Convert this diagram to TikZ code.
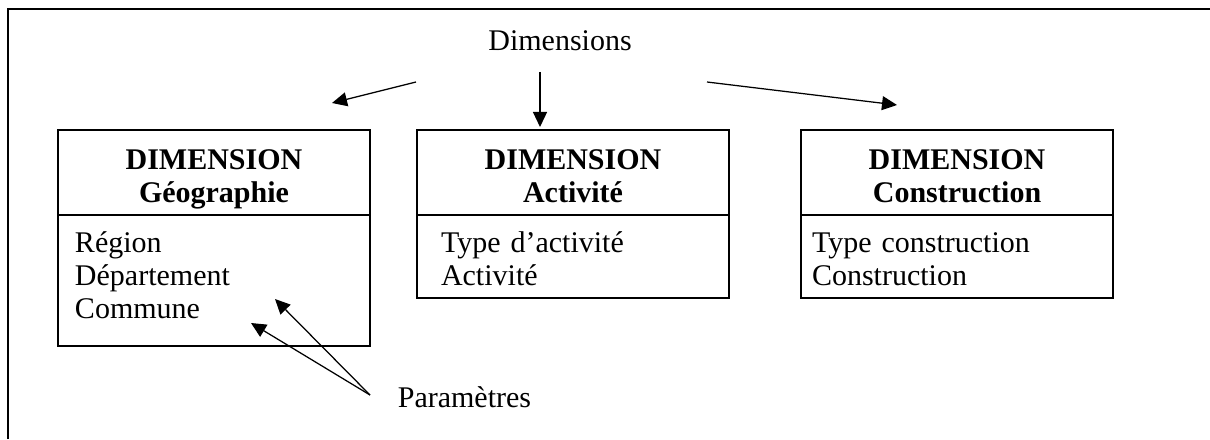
\documentclass[tikz,border=0pt]{standalone}
\usepackage{fontspec}
\setmainfont{Liberation Serif}
\usetikzlibrary{arrows.meta,positioning}

\begin{document}
\begin{tikzpicture}[>={Triangle[length=6pt,width=5.6pt]}, x=0.4pt, y=-0.4pt,
	font=\fontsize{12pt}{13.2pt}\selectfont,
	head/.style={draw, line width=0.8pt, outer sep=0pt, text width=124.8pt, inner xsep=0pt,
		align=center, font=\fontsize{12pt}{13.2pt}\selectfont\bfseries,
		inner ysep=7.6pt, text height=8pt, text depth=10.8pt},
	body/.style={draw, line width=0.8pt, outer sep=0pt, align=left, inner ysep=6.4pt, text height=8.4pt},
	link/.style={->, line width=0.5pt}]
	\useasboundingbox (0,0) rectangle (1210,439);
	
	% Frame
	\draw [line width=1.1pt] (8,439) -- (8,9) -- (1210,9);
	
	% Nodes {dims, heads, bodies, params}
	\node [anchor=base]			(dims)		at (560,51)		{Dimensions};
	\node [head]				(geoHead)	at (214,172.5)	{DIMENSION\\Géographie};
	\node [head]				(actHead)	[right=18.8pt of geoHead]	{DIMENSION\\Activité};
	\node [head]				(conHead)	[right=28.8pt of actHead]	{DIMENSION\\Construction};
	\node [body, inner xsep=6.8pt, text width=111.2pt, text depth=31.2pt]	(geoBody)	[below=0pt of geoHead]	{Région\\Département\\Commune};
	\node [body, inner xsep=9.6pt, text width=105.6pt, text depth=12pt]	(actBody)	[below=0pt of actHead]	{Type d’activité\\Activité};
	\node [body, inner xsep=4.4pt, text width=116pt, text depth=12pt]	(conBody)	[below=0pt of conHead]	{Type construction\\Construction};
	\node [anchor=base west]	(params)	at (389,407)	{Paramètres};
	
	% Arrow ends
	\coordinate (dimGeo)	at (416,82);
	\coordinate (geoIn)		at (332,103);
	\coordinate (dimAct)	at (540,72);
	\coordinate (actIn)		at (540,127);
	\coordinate (dimCon)	at (707,82);
	\coordinate (conIn)		at (897,105);
	\coordinate (paramOut)	at (370,395);
	\coordinate (depIn)		at (275,299);
	\coordinate (comIn)		at (251,323);
	
	% Paths
	\path [link] (dimGeo)	edge (geoIn);
	\path [link] (dimAct)	edge (actIn);
	\path [link] (dimCon)	edge (conIn);
	\path [link] (paramOut)	edge (depIn);
	\path [link] (paramOut)	edge (comIn);
	
\end{tikzpicture}
\end{document}
